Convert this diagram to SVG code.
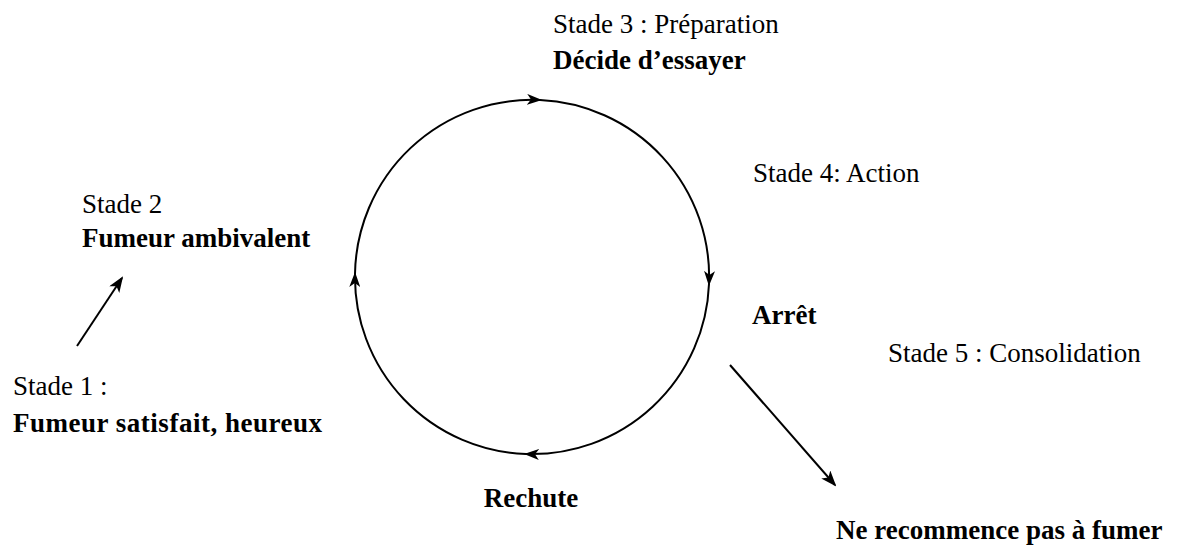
<svg xmlns="http://www.w3.org/2000/svg" width="1190" height="547" viewBox="0 0 1190 547">
  <style>
    .reg { font-family: "Liberation Serif", "Times New Roman", serif; font-size: 27px; fill: #000; }
    .bold { font-family: "Liberation Serif", "Times New Roman", serif; font-size: 27px; font-weight: bold; fill: #000; }
    .conn { fill: none; stroke: #000; stroke-width: 2; }
  </style>
  <defs>
    <marker id="ah" viewBox="0 0 15 11" refX="13" refY="5.5" markerWidth="15" markerHeight="11" markerUnits="userSpaceOnUse" orient="auto">
      <path d="M0,0 L15,5.5 L0,11 L4,5.5 z" fill="#000"/>
    </marker>
    <marker id="ah2" viewBox="0 0 16 12" refX="14" refY="6" markerWidth="16" markerHeight="12" markerUnits="userSpaceOnUse" orient="auto">
      <path d="M0,0 L16,6 L0,12 L4,6 z" fill="#000"/>
    </marker>
  </defs>
  <rect width="1190" height="547" fill="#fff"/>

  <g id="connectors">
    <path class="conn" d="M355,274 A177,177 0 0 1 540,100" marker-end="url(#ah)"/>
    <path class="conn" d="M540,100 A177,177 0 0 1 709,284" marker-end="url(#ah)"/>
    <path class="conn" d="M709,284 A177,177 0 0 1 526,454" marker-end="url(#ah)"/>
    <path class="conn" d="M526,454 A177,177 0 0 1 355,274" marker-end="url(#ah)"/>
    <line class="conn" x1="77" y1="346" x2="122" y2="278" marker-end="url(#ah2)"/>
    <line class="conn" x1="730" y1="365" x2="835" y2="485" marker-end="url(#ah2)"/>
  </g>

  <g id="stade3">
    <text class="reg" x="553" y="33">Stade 3 : Préparation</text>
    <text class="bold" x="553" y="69">Décide d’essayer</text>
  </g>
  <g id="stade4">
    <text class="reg" x="753" y="182">Stade 4: Action</text>
  </g>
  <g id="stade2">
    <text class="reg" x="82" y="213">Stade 2</text>
    <text class="bold" x="82" y="247">Fumeur ambivalent</text>
  </g>
  <g id="stade1">
    <text class="reg" x="13" y="395">Stade 1 :</text>
    <text class="bold" x="13" y="432" textLength="309" lengthAdjust="spacing">Fumeur satisfait, heureux</text>
  </g>
  <g id="rechute">
    <text class="bold" x="531" y="507" text-anchor="middle">Rechute</text>
  </g>
  <g id="arret">
    <text class="bold" x="752" y="324">Arrêt</text>
  </g>
  <g id="stade5">
    <text class="reg" x="888" y="362">Stade 5 : Consolidation</text>
  </g>
  <g id="consolidation">
    <text class="bold" x="836" y="539">Ne recommence pas à fumer</text>
  </g>
</svg>
